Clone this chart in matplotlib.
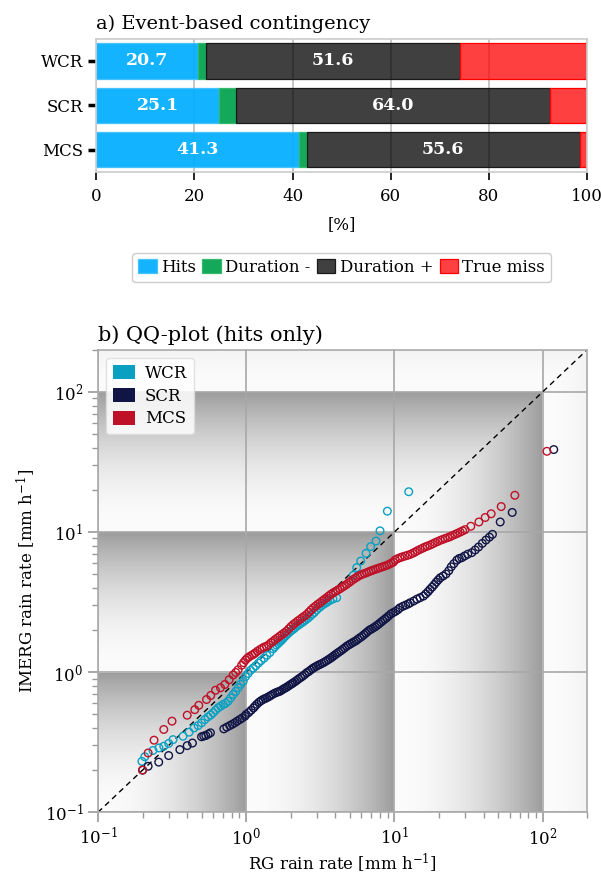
import numpy as np
import matplotlib
matplotlib.use('Agg')
import matplotlib.pyplot as plt
from matplotlib.colors import LinearSegmentedColormap
from matplotlib.patches import Patch

plt.rcParams['font.family'] = ['DejaVu Serif']
plt.rcParams['mathtext.fontset'] = 'dejavuserif'

# a) contingency (%)
regimes = ['WCR', 'SCR', 'MCS']
hits = [20.7, 25.1, 41.3]
dur_minus = [1.7, 3.3, 1.6]
dur_plus = [51.6, 64.0, 55.6]
true_miss = [26.0, 7.6, 1.5]
seg_labels = ['Hits', 'Duration -', 'Duration +', 'True miss']

# b) QQ pairs (RG, IMERG) in mm/h
wcr_qq = [(0.198, 0.231), (0.207, 0.249), (0.235, 0.276), (0.258, 0.288), (0.278, 0.296), (0.300, 0.310),
          (0.321, 0.330), (0.375, 0.349), (0.412, 0.373), (0.445, 0.400), (0.474, 0.416), (0.500, 0.435),
          (0.526, 0.459), (0.553, 0.480), (0.577, 0.495), (0.598, 0.513), (0.622, 0.535), (0.647, 0.557),
          (0.673, 0.572), (0.700, 0.588), (0.727, 0.600), (0.755, 0.621), (0.786, 0.655), (0.817, 0.693),
          (0.850, 0.730), (0.883, 0.774), (0.918, 0.820), (0.955, 0.862), (0.990, 0.930), (1.03, 0.98),
          (1.07, 1.03), (1.115, 1.07), (1.16, 1.11), (1.21, 1.16), (1.26, 1.21), (1.32, 1.26),
          (1.38, 1.32), (1.445, 1.38), (1.52, 1.47), (1.56, 1.52), (1.60, 1.56), (1.64, 1.60),
          (1.68, 1.64), (1.72, 1.68), (1.76, 1.72), (1.80, 1.77), (1.85, 1.82), (1.90, 1.87),
          (1.95, 1.92), (2.00, 1.97), (2.06, 2.01), (2.12, 2.06), (2.18, 2.12), (2.24, 2.16),
          (2.30, 2.20), (2.37, 2.25), (2.44, 2.30), (2.52, 2.36), (2.60, 2.42), (2.69, 2.50),
          (2.78, 2.58), (2.88, 2.66), (2.99, 2.78), (3.10, 2.88), (3.20, 2.96), (3.31, 3.04),
          (3.43, 3.11), (3.55, 3.18), (3.68, 3.26), (3.85, 3.33), (4.08, 3.40),
          (5.28, 4.91), (5.57, 5.57), (5.93, 6.21), (6.44, 7.05), (6.92, 7.87), (7.52, 8.63),
          (8.00, 10.2), (8.97, 14.1), (12.5, 19.4)]

scr_qq = [(0.200, 0.200), (0.218, 0.213), (0.257, 0.228), (0.300, 0.254), (0.357, 0.280), (0.400, 0.299),
          (0.434, 0.312), (0.500, 0.346), (0.517, 0.350), (0.534, 0.353), (0.554, 0.361), (0.574, 0.369),
          (0.707, 0.394), (0.740, 0.405), (0.776, 0.416), (0.806, 0.425), (0.838, 0.435), (0.870, 0.447),
          (0.906, 0.459), (0.940, 0.471), (0.980, 0.485), (1.00, 0.499), (1.04, 0.515), (1.08, 0.535),
          (1.12, 0.555), (1.146, 0.571), (1.18, 0.590), (1.22, 0.610), (1.26, 0.625), (1.30, 0.638),
          (1.34, 0.648), (1.375, 0.656), (1.42, 0.668), (1.46, 0.680), (1.51, 0.695), (1.56, 0.708),
          (1.61, 0.718), (1.65, 0.725), (1.69, 0.731), (1.74, 0.745), (1.79, 0.760), (1.84, 0.772),
          (1.89, 0.785), (1.94, 0.800), (1.99, 0.815), (2.04, 0.828), (2.08, 0.840), (2.14, 0.857),
          (2.20, 0.875), (2.26, 0.895), (2.33, 0.915), (2.40, 0.935), (2.48, 0.960), (2.56, 0.990),
          (2.64, 1.01), (2.72, 1.035), (2.80, 1.06), (2.88, 1.08), (2.97, 1.10), (3.06, 1.12),
          (3.15, 1.135), (3.25, 1.155), (3.35, 1.175), (3.46, 1.20), (3.57, 1.225), (3.68, 1.25),
          (3.78, 1.275), (3.87, 1.30), (3.98, 1.33), (4.10, 1.36), (4.22, 1.39), (4.35, 1.42),
          (4.48, 1.455), (4.62, 1.49), (4.76, 1.53), (4.90, 1.56), (5.05, 1.59), (5.20, 1.62),
          (5.36, 1.65), (5.52, 1.68), (5.68, 1.72), (5.86, 1.76), (6.04, 1.80), (6.23, 1.85),
          (6.42, 1.90), (6.61, 1.95), (6.80, 2.00), (7.00, 2.03), (7.21, 2.07), (7.42, 2.11),
          (7.64, 2.16), (7.87, 2.21), (8.11, 2.27), (8.36, 2.33), (8.62, 2.39), (8.88, 2.45),
          (9.15, 2.52), (9.45, 2.60), (9.80, 2.66), (10.2, 2.72), (10.6, 2.80), (10.9, 2.88),
          (11.4, 2.95), (11.9, 3.01), (12.4, 3.07), (12.8, 3.13), (13.5, 3.22), (14.2, 3.32),
          (14.9, 3.40), (15.7, 3.49), (16.3, 3.62), (16.9, 3.76), (17.4, 3.90), (18.0, 4.05),
          (18.6, 4.22), (19.2, 4.40), (19.8, 4.56), (20.4, 4.72), (21.3, 4.85), (22.3, 5.02),
          (23.3, 5.30), (24.2, 5.65), (25.2, 5.95), (26.4, 6.30), (27.4, 6.48), (28.5, 6.56),
          (29.8, 6.75), (31.3, 6.95), (33.3, 7.13), (35.1, 7.45), (37.0, 7.82), (39.2, 8.30),
          (41.5, 8.77), (43.8, 9.20), (45.9, 9.63), (51.8, 11.8), (62.4, 13.8), (119, 38.8)]

mcs_qq = [(0.200, 0.200), (0.218, 0.265), (0.239, 0.327), (0.278, 0.390), (0.316, 0.447), (0.400, 0.493),
          (0.450, 0.540), (0.479, 0.580), (0.540, 0.638), (0.577, 0.682), (0.621, 0.743), (0.671, 0.774),
          (0.718, 0.817), (0.768, 0.883), (0.817, 0.955), (0.850, 0.995), (0.883, 1.04), (0.931, 1.12),
          (0.960, 1.17), (0.990, 1.22), (1.02, 1.26), (1.05, 1.29), (1.09, 1.32), (1.12, 1.34),
          (1.15, 1.37), (1.19, 1.41), (1.24, 1.45), (1.28, 1.48), (1.32, 1.51), (1.37, 1.53),
          (1.42, 1.57), (1.47, 1.62), (1.52, 1.66), (1.57, 1.71), (1.63, 1.76), (1.69, 1.81),
          (1.75, 1.86), (1.81, 1.91), (1.87, 1.96), (1.94, 2.04), (2.01, 2.12), (2.08, 2.19),
          (2.15, 2.25), (2.23, 2.32), (2.31, 2.38), (2.39, 2.45), (2.47, 2.51), (2.56, 2.58),
          (2.65, 2.68), (2.74, 2.78), (2.84, 2.88), (2.94, 2.96), (3.04, 3.05), (3.15, 3.13),
          (3.26, 3.22), (3.37, 3.31), (3.49, 3.40), (3.61, 3.50), (3.74, 3.60), (3.87, 3.69),
          (4.01, 3.77), (4.15, 3.86), (4.30, 3.94), (4.45, 4.04), (4.60, 4.13), (4.76, 4.23),
          (4.93, 4.35), (5.10, 4.47), (5.28, 4.59), (5.47, 4.70), (5.66, 4.81), (5.86, 4.91),
          (6.07, 4.99), (6.28, 5.06), (6.50, 5.13), (6.73, 5.21), (6.97, 5.29), (7.21, 5.36),
          (7.47, 5.43), (7.73, 5.50), (8.00, 5.57), (8.29, 5.64), (8.58, 5.71), (8.88, 5.78),
          (9.19, 5.88), (9.50, 5.99), (9.84, 6.10), (10.1, 6.31), (10.5, 6.45), (10.9, 6.56),
          (11.3, 6.65), (11.8, 6.74), (12.3, 6.83), (12.8, 6.93), (13.3, 7.06), (13.8, 7.20),
          (14.3, 7.36), (14.9, 7.52), (15.5, 7.67), (16.1, 7.82), (16.7, 7.94), (17.4, 8.07),
          (18.1, 8.23), (18.8, 8.40), (19.6, 8.56), (20.4, 8.73), (21.2, 8.86), (22.0, 9.00),
          (22.9, 9.13), (23.8, 9.27), (24.7, 9.45), (25.7, 9.63), (26.7, 9.80), (27.8, 10.0),
          (28.9, 10.2), (30.0, 10.4), (32.8, 11.0), (37.2, 11.8), (41.0, 12.7), (45.0, 13.5),
          (52.6, 15.2), (65.0, 18.3), (107, 37.7)]

qq_colors = {'WCR': '#0aa0c2', 'SCR': '#111545', 'MCS': '#be1128'}

fig = plt.figure(figsize=(6.01, 8.81), dpi=100)

# ---------------- a) stacked bars
ax1 = fig.add_axes([0.16, 0.805, 0.817, 0.151])
face = [(0.0, 0.68, 1.0, 0.92), (0.0, 0.63, 0.30, 0.92), (0.0, 0.0, 0.0, 0.75), (1.0, 0.0, 0.0, 0.75)]
edge = ['#45c2ff', '#35b86a', '#1a1a1a', '#ff0000']
ypos = np.arange(len(regimes))
left = np.zeros(len(regimes))
for vals, fc, ec, lab in zip([hits, dur_minus, dur_plus, true_miss], face, edge, seg_labels):
    ax1.barh(ypos, vals, left=left, height=0.8, color=fc, edgecolor=ec, linewidth=0.9, label=lab, zorder=2)
    left = left + np.array(vals)
for i in range(len(regimes)):
    ax1.text(hits[i] / 2, i, f'{hits[i]:.1f}', ha='center', va='center', color='white',
             fontsize=12.5, fontweight='bold', zorder=3)
    mid = hits[i] + dur_minus[i] + dur_plus[i] / 2
    ax1.text(mid, i, f'{dur_plus[i]:.1f}', ha='center', va='center', color='white',
             fontsize=12.5, fontweight='bold', zorder=3)
ax1.set_xlim(0, 100)
ax1.set_ylim(2.5, -0.5)
ax1.set_yticks(ypos)
ax1.set_yticklabels(regimes, fontsize=12)
ax1.set_xticks(np.arange(0, 101, 20))
ax1.tick_params(axis='x', labelsize=12, length=6, width=1.2, color='black', pad=6)
ax1.tick_params(axis='y', length=6, width=2.5, color='black')
ax1.xaxis.grid(True, color='#bdbdbd', linewidth=1.2, zorder=0)
ax1.set_axisbelow(True)
for s in ax1.spines.values():
    s.set_color('#cccccc')
    s.set_linewidth(1.2)
ax1.set_xlabel('[%]', fontsize=12, labelpad=8)
ax1.set_title('a) Event-based contingency', loc='left', fontsize=14, pad=7)
leg1 = ax1.legend(loc='upper center', bbox_to_anchor=(0.5, -0.55), ncol=4, fontsize=12,
                  handlelength=1.1, handleheight=0.9, handletextpad=0.25, columnspacing=0.4,
                  borderpad=0.35, fancybox=True, edgecolor='#cccccc', framealpha=1)

# ---------------- b) QQ plot
ax2 = fig.add_axes([0.163, 0.078, 0.814, 0.525])
lo, hi = 0.1, 200
xe = np.logspace(np.log10(lo), np.log10(hi), 600)
xc = np.sqrt(xe[:-1] * xe[1:])
XX, YY = np.meshgrid(np.log10(xc), np.log10(xc))
mx = np.maximum(XX, YY)
shade = (mx - np.floor(mx)) ** 2
cmap = LinearSegmentedColormap.from_list('shade', ['#fbfbfb', '#9c9c9c'])
ax2.pcolormesh(xe, xe, shade, cmap=cmap, vmin=0, vmax=1, shading='flat', zorder=0, rasterized=True)
ax2.set_xscale('log')
ax2.set_yscale('log')
ax2.set_xlim(lo, hi)
ax2.set_ylim(lo, hi)
ax2.grid(True, which='major', color='#a8a8a8', linewidth=1.2, zorder=1)
ax2.plot([lo, hi], [lo, hi], color='black', linestyle='--', linewidth=1.0, dashes=(4, 3), zorder=2)

for name, pairs in zip(regimes, [wcr_qq, scr_qq, mcs_qq]):
    arr = np.array(pairs)
    ax2.scatter(arr[:, 0], arr[:, 1], s=30, facecolors='none', edgecolors=qq_colors[name],
                linewidths=1.0, zorder=3)

ax2.tick_params(which='major', labelsize=12, length=7, width=1.2, color='#999999')
ax2.tick_params(which='minor', length=4.5, width=1.0, color='#999999')
for s in ax2.spines.values():
    s.set_color('#aaaaaa')
    s.set_linewidth(1.2)
ax2.set_xlabel('RG rain rate [mm h$^{-1}$]', fontsize=12, labelpad=2)
ax2.set_ylabel('IMERG rain rate [mm h$^{-1}$]', fontsize=12, labelpad=5)
ax2.set_title('b) QQ-plot (hits only)', loc='left', fontsize=15, pad=6)
handles = [Patch(facecolor=qq_colors[n], edgecolor='none', label=n) for n in regimes]
ax2.legend(handles=handles, loc='upper left', fontsize=12, handlelength=1.3, handleheight=0.9,
           handletextpad=0.6, borderpad=0.4, labelspacing=0.35, fancybox=True,
           edgecolor='#dddddd', framealpha=0.85)

fig.savefig('out.png', dpi=100)
